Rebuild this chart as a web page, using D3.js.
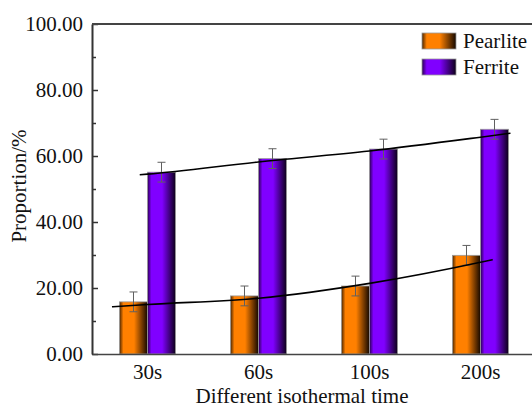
<!DOCTYPE html>
<html>
<head>
<meta charset="utf-8">
<script src="https://cdn.jsdelivr.net/npm/d3@7"></script>
<style>
  body { margin: 0; background: #fff; }
  svg { display: block; }
  svg text { font-family: "Liberation Serif", "Times New Roman", "DejaVu Serif", serif !important; }
</style>
</head>
<body>
<div id="chart"></div>
<script>
// values
var categories = ["30s", "60s", "100s", "200s"];
var seriesNames = ["Pearlite", "Ferrite"];
var pearlite = [15.8, 17.6, 20.6, 29.9];
var ferrite = [55.1, 59.2, 62.1, 68.1];
var pearliteErr = [3, 3, 3, 3];
var ferriteErr = [3, 3, 3, 3];
var yMajor = [0, 20, 40, 60, 80, 100];
var yMinor = [10, 30, 50, 70, 90];

// fitted trend lines (category index -> value)
var pearliteTrendX = [-0.32, 0, 1, 2, 3, 3.11];
var pearliteTrendY = [14.3, 15.0, 16.9, 21.4, 27.8, 28.6];
var ferriteTrendX = [-0.07, 0, 1, 2, 3, 3.27];
var ferriteTrendY = [54.3, 54.5, 58.2, 61.5, 65.7, 66.9];

var W = 532, H = 408;
var margin = {top: 24, left: 92};
var width = 444, height = 330;
var fs = 21;

var svg = d3.select("#chart").append("svg")
    .attr("width", W)
    .attr("height", H);

// bar shading
var defs = svg.append("defs");
function grad(id, dark, mid, end) {
    var g = defs.append("linearGradient").attr("id", id)
        .attr("x1", "0%").attr("x2", "100%").attr("y1", "0%").attr("y2", "0%");
    g.append("stop").attr("offset", "0%").attr("stop-color", dark);
    g.append("stop").attr("offset", "14%").attr("stop-color", mid);
    g.append("stop").attr("offset", "52%").attr("stop-color", mid);
    g.append("stop").attr("offset", "100%").attr("stop-color", end);
}
grad("gPearlite", "#4a2500", "#ff8000", "#140800");
grad("gFerrite", "#2a0050", "#8000ff", "#0c0018");
var fills = {Pearlite: "url(#gPearlite)", Ferrite: "url(#gFerrite)"};

var g = svg.append("g")
    .attr("transform", "translate(" + margin.left + "," + margin.top + ")");

var x0 = d3.scaleBand()
    .domain(categories)
    .range([0, width])
    .paddingInner(0.495)
    .paddingOuter(0.2475);

var x1 = d3.scaleBand()
    .domain(seriesNames)
    .range([0, x0.bandwidth()]);

var y = d3.scaleLinear()
    .domain([0, 100])
    .range([height, 0]);

var xi = d3.scaleLinear()
    .domain([0, categories.length - 1])
    .range([x0(categories[0]) + x0.bandwidth() / 2,
            x0(categories[categories.length - 1]) + x0.bandwidth() / 2]);

var rows = [];
categories.forEach(function (c, i) {
    rows.push({cat: c, s: "Pearlite", v: pearlite[i], e: pearliteErr[i]});
    rows.push({cat: c, s: "Ferrite", v: ferrite[i], e: ferriteErr[i]});
});

// bars
g.selectAll("rect.bar")
    .data(rows)
    .enter().append("rect")
    .attr("class", "bar")
    .attr("x", function (d) { return x0(d.cat) + x1(d.s); })
    .attr("y", function (d) { return y(d.v); })
    .attr("width", x1.bandwidth())
    .attr("height", function (d) { return height - y(d.v); })
    .attr("fill", function (d) { return fills[d.s]; })
    .attr("stroke", "#9a9a9a")
    .attr("stroke-width", 0.8);

// error bars
var eb = g.selectAll("g.err")
    .data(rows)
    .enter().append("g")
    .attr("class", "err")
    .attr("transform", function (d) {
        return "translate(" + (x0(d.cat) + x1(d.s) + x1.bandwidth() / 2) + ",0)";
    })
    .attr("stroke", "#606060")
    .attr("stroke-width", 1);
eb.append("line")
    .attr("y1", function (d) { return y(d.v + d.e); })
    .attr("y2", function (d) { return y(d.v - d.e); });
eb.append("line")
    .attr("x1", -4).attr("x2", 4)
    .attr("y1", function (d) { return y(d.v + d.e); })
    .attr("y2", function (d) { return y(d.v + d.e); });
eb.append("line")
    .attr("x1", -4).attr("x2", 4)
    .attr("y1", function (d) { return y(d.v - d.e); })
    .attr("y2", function (d) { return y(d.v - d.e); });

// trend lines
var line = d3.line()
    .x(function (d) { return xi(d[0]); })
    .y(function (d) { return y(d[1]); })
    .curve(d3.curveMonotoneX);

g.append("path")
    .datum(d3.zip(pearliteTrendX, pearliteTrendY))
    .attr("d", line)
    .attr("fill", "none")
    .attr("stroke", "#000")
    .attr("stroke-width", 1.6);

g.append("path")
    .datum(d3.zip(ferriteTrendX, ferriteTrendY))
    .attr("d", line)
    .attr("fill", "none")
    .attr("stroke", "#000")
    .attr("stroke-width", 1.6);

// axes
var yAxis = g.append("g")
    .call(d3.axisLeft(y).tickValues(yMajor).tickFormat(d3.format(".2f"))
        .tickSizeInner(-6).tickSizeOuter(0).tickPadding(9));
yAxis.select(".domain").attr("stroke", "#333").attr("stroke-width", 2);
yAxis.selectAll(".tick line").attr("stroke", "#333").attr("stroke-width", 1.5);
yAxis.selectAll(".tick text")
    .attr("font-size", fs)
    .attr("fill", "#111");

g.append("g")
    .call(d3.axisLeft(y).tickValues(yMinor).tickFormat("").tickSizeInner(-4).tickSizeOuter(0))
    .call(function (s) { s.select(".domain").remove(); })
    .selectAll(".tick line").attr("stroke", "#333").attr("stroke-width", 1.5);

var xAxis = g.append("g")
    .attr("transform", "translate(0," + height + ")")
    .call(d3.axisBottom(x0).tickSize(0).tickSizeOuter(0).tickPadding(10));
xAxis.select(".domain").attr("stroke", "#444").attr("stroke-width", 1.6);
xAxis.selectAll(".tick text")
    .attr("font-size", fs)
    .attr("fill", "#111");

// top frame
g.append("line")
    .attr("x1", 0).attr("x2", width)
    .attr("y1", 0).attr("y2", 0)
    .attr("stroke", "#444").attr("stroke-width", 2.2);
g.append("line")
    .attr("x1", width).attr("x2", width)
    .attr("y1", 0).attr("y2", height)
    .attr("stroke", "#444").attr("stroke-width", 2);

// axis titles
svg.append("text")
    .attr("x", 302)
    .attr("y", 403)
    .attr("text-anchor", "middle")
    .attr("font-size", fs)
    .attr("fill", "#111")
    .text("Different isothermal time");

svg.append("text")
    .attr("transform", "translate(26,186) rotate(-90)")
    .attr("text-anchor", "middle")
    .attr("font-size", fs)
    .attr("fill", "#111")
    .text("Proportion/%");

// legend
var legend = svg.append("g").attr("transform", "translate(422,33)");
var li = legend.selectAll("g")
    .data(seriesNames)
    .enter().append("g")
    .attr("transform", function (d, i) { return "translate(0," + (i * 26) + ")"; });
li.append("rect")
    .attr("width", 34)
    .attr("height", 16)
    .attr("fill", function (d) { return fills[d]; })
    .attr("stroke", "#9a9a9a")
    .attr("stroke-width", 0.8);
li.append("text")
    .attr("x", 41)
    .attr("y", 15)
    .attr("font-size", fs)
    .attr("fill", "#111")
    .text(function (d) { return d; });
</script>
</body>
</html>
